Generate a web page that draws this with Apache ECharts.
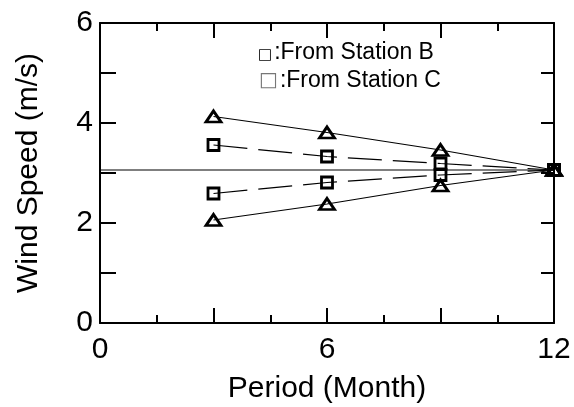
<!DOCTYPE html>
<html>
<head>
<meta charset="utf-8">
<script src="https://cdn.jsdelivr.net/npm/echarts@6/dist/echarts.min.js"></script>
<style>
  html, body { margin: 0; padding: 0; background: #fff; }
  #chart { width: 574px; height: 407px; }
</style>
</head>
<body>
<div id="chart"></div>
<script>
// Averaging period in months
var months = [3, 6, 9, 12];
// Estimated wind speed (m/s) bounds
var triUpper = [4.13, 3.81, 3.46, 3.06];
var sqUpper  = [3.56, 3.33, 3.19, 3.06];
var sqLower  = [2.59, 2.81, 2.96, 3.06];
var triLower = [2.06, 2.38, 2.75, 3.06];
// Long-term reference speed
var referenceSpeed = 3.06;
var referenceSpan = [0, 12];

var xLabels = [0, 6, 12];
var yLabels = [0, 2, 4, 6];

var FONT = 'Liberation Sans, Arial, sans-serif';

function pairs(xs, ys) {
  return xs.map(function (x, i) { return [x, ys[i]]; });
}

// Hollow black markers joined by a thin solid or dashed line
function markerSeries(name, values, symbol, size, dashed) {
  return {
    name: name,
    type: 'line',
    data: pairs(months, values),
    symbol: symbol,
    symbolSize: size,
    showAllSymbol: true,
    lineStyle: { color: '#000', width: 1.2, type: dashed ? [34, 11] : 'solid' },
    itemStyle: { color: 'rgba(0,0,0,0)', borderColor: '#000', borderWidth: 2.8 },
    z: dashed ? 3 : 4,
    animation: false
  };
}

var chart = echarts.init(document.getElementById('chart'), null, { renderer: 'canvas' });

var axisLineStyle = { color: '#000', width: 2 };

chart.setOption({
  backgroundColor: '#fff',
  animation: false,
  grid: { left: 100, right: 20, top: 23, bottom: 84, containLabel: false, outerBoundsMode: 'none' },
  xAxis: [
    {
      type: 'value', min: 0, max: 12, interval: 3,
      name: 'Period (Month)', nameLocation: 'middle', nameGap: 51,
      nameTextStyle: { fontFamily: FONT, fontSize: 30, color: '#000' },
      axisLine: { show: true, onZero: false, lineStyle: axisLineStyle },
      axisTick: { show: true, inside: true, length: 15, lineStyle: { color: '#000', width: 2 } },
      minorTick: { show: true, splitNumber: 2, length: 8, lineStyle: { color: '#000', width: 2 } },
      axisLabel: {
        fontFamily: FONT, fontSize: 30, color: '#000', margin: 12,
        formatter: function (v) { return xLabels.indexOf(v) >= 0 ? String(v) : ''; }
      },
      splitLine: { show: false }
    },
    {
      type: 'value', min: 0, max: 12, interval: 3, position: 'top',
      axisLine: { show: true, onZero: false, lineStyle: axisLineStyle },
      axisTick: { show: true, inside: true, length: 15, lineStyle: { color: '#000', width: 2 } },
      minorTick: { show: true, splitNumber: 2, length: 8, lineStyle: { color: '#000', width: 2 } },
      axisLabel: { show: false },
      splitLine: { show: false }
    }
  ],
  yAxis: [
    {
      type: 'value', min: 0, max: 6, interval: 1,
      name: 'Wind Speed (m/s)', nameLocation: 'middle', nameGap: 56,
      nameTextStyle: { fontFamily: FONT, fontSize: 30, color: '#000' },
      axisLine: { show: true, onZero: false, lineStyle: axisLineStyle },
      axisTick: { show: true, inside: true, length: 16, lineStyle: { color: '#000', width: 2 } },
      axisLabel: {
        fontFamily: FONT, fontSize: 30, color: '#000', margin: 7,
        formatter: function (v) { return yLabels.indexOf(v) >= 0 ? String(v) : ''; }
      },
      splitLine: { show: false }
    },
    {
      type: 'value', min: 0, max: 6, interval: 1, position: 'right',
      axisLine: { show: true, onZero: false, lineStyle: axisLineStyle },
      axisTick: { show: true, inside: true, length: 13, lineStyle: { color: '#000', width: 2 } },
      axisLabel: { show: false },
      splitLine: { show: false }
    }
  ],
  series: [
    {
      name: 'Reference',
      type: 'line',
      data: pairs(referenceSpan, [referenceSpeed, referenceSpeed]),
      symbol: 'none',
      lineStyle: { color: '#000', width: 1.2 },
      z: 2,
      animation: false
    },
    markerSeries('Upper (A)', triUpper, 'triangle', [15, 11], false),
    markerSeries('Upper (B)', sqUpper, 'rect', 11, true),
    markerSeries('Lower (B)', sqLower, 'rect', 11, true),
    markerSeries('Lower (A)', triLower, 'triangle', [15, 11], false)
  ],
  graphic: [
    {
      type: 'text', left: 258, top: 41, silent: true,
      style: {
        text: '{s|□}{t|:From Station B}',
        rich: {
          s: { fontFamily: 'DejaVu Sans', fontSize: 15, fill: '#000', verticalAlign: 'bottom', padding: [0, 2, 1, 0] },
          t: { fontFamily: FONT, fontSize: 23, fill: '#000' }
        }
      }
    },
    {
      type: 'text', left: 259, top: 69, silent: true,
      style: {
        text: '{s|□}{t|:From Station C}',
        rich: {
          s: { fontFamily: 'DejaVu Sans', fontSize: 20, fill: '#777', padding: [0, 2, 0, 0] },
          t: { fontFamily: FONT, fontSize: 23, fill: '#000' }
        }
      }
    }
  ]
});
</script>
</body>
</html>
